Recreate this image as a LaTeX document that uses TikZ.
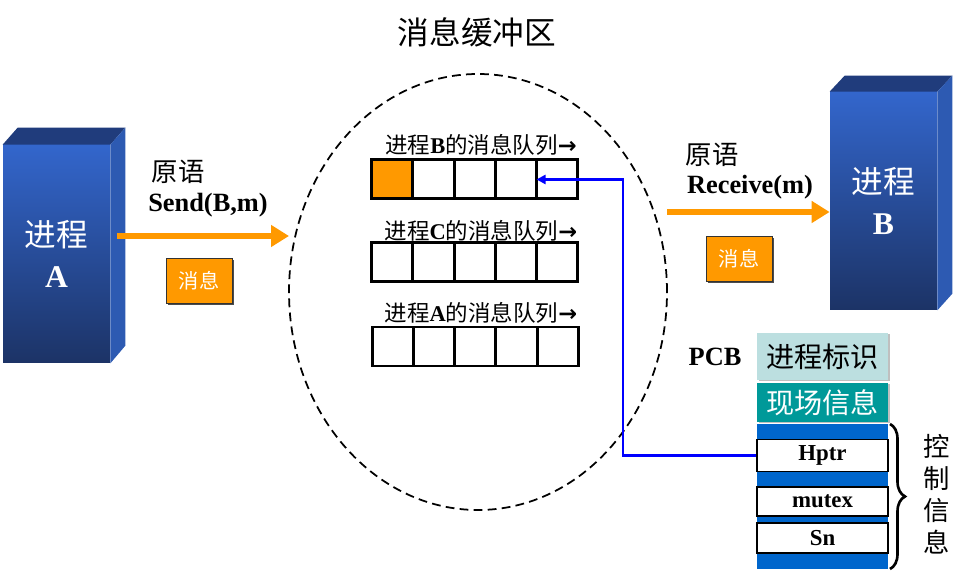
\documentclass[tikz,border=0pt]{standalone}
\usepackage{fontspec}
\setmainfont{Liberation Serif}
\newfontfamily\cjk{Noto Sans CJK SC}
\newfontfamily\symfont{DejaVu Sans}
\usetikzlibrary{calc,shapes.geometric,arrows.meta,shadows,decorations.pathreplacing}
\definecolor{msgorange}{HTML}{FF9900}
\definecolor{procblue}{HTML}{3366CC}
\definecolor{procnavy}{HTML}{1C3366}
\definecolor{proctopc}{HTML}{203C7C}
\definecolor{procsidec}{HTML}{2D5AB2}
\definecolor{pcblight}{HTML}{BCDFE0}
\definecolor{pcbteal}{HTML}{009999}
\definecolor{ctrlblue}{HTML}{0066CC}
\tikzset{
	procface/.style={top color=procblue, bottom color=procnavy, minimum width=2.14cm, minimum height=4.36cm, text=white, align=center, font=\fontsize{18}{22}\selectfont\bfseries},
	flowarrow/.style={msgorange, line width=0.12cm, -{Triangle[length=0.36cm,width=0.42cm]}},
	msgbox/.style={fill=msgorange, draw=black!80, drop shadow={shadow xshift=0.04cm, shadow yshift=-0.04cm, fill=black!70, opacity=1}, minimum width=1.32cm, minimum height=0.9cm, text=white, font=\fontsize{11.5}{13}\selectfont\cjk},
	primlabel/.style={font=\fontsize{15}{18}\selectfont},
	qlabel/.style={font=\fontsize{12.8}{14}\selectfont},
	cellline/.style={line width=1.7pt},
	pcbbox/.style={minimum width=2.62cm, font=\fontsize{16}{19}\selectfont\cjk, drop shadow={shadow xshift=0.03cm, shadow yshift=-0.03cm, fill=black!25, opacity=1}},
	ctrlcell/.style={fill=white, draw=black, line width=0.6pt, minimum width=2.62cm, font=\fontsize{13}{15}\selectfont\bfseries},
	ptrarrow/.style={blue, line width=1.4pt, -{Triangle[length=0.18cm,width=0.18cm]}}
}

\begin{document}
\begin{tikzpicture}
			%%%%% START %%%%%
			\useasboundingbox (0, 0) rectangle (19.38, 11.44);
			
			% process A
			\node[procface] (procA) at (1.13, 6.36) {{\cjk\mdseries 进程}\\[1pt]A};
			\fill[proctopc] (procA.north west) -- (procA.north east) -- ++(0.3, 0.34) -- ($(procA.north west)+(0.3, 0.34)$) -- cycle;
			\fill[procsidec] (procA.north east) -- ++(0.3, 0.34) -- ++(0, -4.36) -- (procA.south east) -- cycle;
			
			% process B
			\node[procface] (procB) at (17.67, 7.42) {{\cjk\mdseries 进程}\\[1pt]B};
			\fill[proctopc] (procB.north west) -- (procB.north east) -- ++(0.3, 0.32) -- ($(procB.north west)+(0.3, 0.32)$) -- cycle;
			\fill[procsidec] (procB.north east) -- ++(0.3, 0.32) -- ++(0, -4.36) -- (procB.south east) -- cycle;
			
			% buffer
			\node[font=\fontsize{18}{21}\selectfont\cjk] (title) at (9.54, 10.8) {消息缓冲区};
			\node[draw, dash pattern=on 5pt off 3pt, ellipse, line width=1pt, minimum width=7.56cm, minimum height=8.72cm] (buffer) at (9.56, 5.6) {};
			
			% send side
			\coordinate (sendEnd) at (5.78, 6.72);
			\draw[flowarrow] ($(procA.east |- sendEnd)+(0.14, 0)$) -- (sendEnd);
			\node[primlabel] (sendPrim) at (3.56, 8.0) {\cjk 原语};
			\node[primlabel, font=\fontsize{15}{18}\selectfont\bfseries] (sendCall) at (4.16, 7.34) {Send(B,m)};
			\node[msgbox] (sendMsg) at (3.98, 5.82) {消息};
			
			% receive side
			\coordinate (recvStart) at (13.34, 7.2);
			\draw[flowarrow] (recvStart) -- (procB.west |- recvStart);
			\node[primlabel] (recvPrim) at (14.24, 8.34) {\cjk 原语};
			\node[primlabel, font=\fontsize{15}{18}\selectfont\bfseries] (recvCall) at (15.0, 7.7) {Receive(m)};
			\node[msgbox] (recvMsg) at (14.78, 6.26) {消息};
			
			% queues
			\node[qlabel] (qlabelB) at (9.62, 8.54) {{\cjk 进程}\textbf{B}{\cjk 的消息队列}{\symfont\bfseries →}};
			\draw[cellline, fill=msgorange] (7.43, 7.46) rectangle (8.25, 8.24);
			\draw[cellline] (7.43, 7.46) rectangle (11.55, 8.24);
			\draw[cellline] (8.25, 7.46) -- (8.25, 8.24) (9.08, 7.46) -- (9.08, 8.24) (9.9, 7.46) -- (9.9, 8.24) (10.73, 7.46) -- (10.73, 8.24);
			\coordinate (tailB) at (10.73, 7.85);
			
			\node[qlabel] (qlabelC) at (9.62, 6.82) {{\cjk 进程}\textbf{C}{\cjk 的消息队列}{\symfont\bfseries →}};
			\draw[cellline] (7.43, 5.8) rectangle (11.55, 6.58);
			\draw[cellline] (8.25, 5.8) -- (8.25, 6.58) (9.08, 5.8) -- (9.08, 6.58) (9.9, 5.8) -- (9.9, 6.58) (10.73, 5.8) -- (10.73, 6.58);
			
			\node[qlabel] (qlabelA) at (9.62, 5.18) {{\cjk 进程}\textbf{A}{\cjk 的消息队列}{\symfont\bfseries →}};
			\draw[cellline] (7.44, 4.12) rectangle (11.56, 4.9);
			\draw[cellline] (8.26, 4.12) -- (8.26, 4.9) (9.09, 4.12) -- (9.09, 4.9) (9.91, 4.12) -- (9.91, 4.9) (10.74, 4.12) -- (10.74, 4.9);
			
			% PCB
			\node[font=\fontsize{15}{18}\selectfont\bfseries] (pcb) at (14.3, 4.3) {PCB};
			\node[pcbbox, fill=pcblight, minimum height=0.94cm] (pid) at (16.45, 4.31) {进程标识};
			\node[pcbbox, fill=pcbteal, text=white, minimum height=0.78cm] (ctx) at (16.45, 3.39) {现场信息};
			\fill[ctrlblue] (15.14, 0.06) rectangle (17.76, 2.96);
			\node[ctrlcell, minimum height=0.62cm] (hptr) at (16.45, 2.33) {Hptr};
			\node[ctrlcell, minimum height=0.58cm] (mutex) at (16.45, 1.41) {mutex};
			\node[ctrlcell, minimum height=0.6cm] (sn) at (16.45, 0.68) {Sn};
			\draw[decorate, decoration={brace, amplitude=0.3cm}, line width=1.5pt] (17.8, 2.96) -- (17.8, 0.06);
			\node[align=center, font=\fontsize{15}{18.2}\selectfont\cjk] (ctrlinfo) at (18.74, 1.56) {控\\制\\信\\息};
			
			\coordinate (bend) at (12.46, 2.33);
			\draw[ptrarrow] (hptr.west) -- (bend) |- (tailB);
			%%%%% END %%%%%
\end{tikzpicture}
\end{document}
